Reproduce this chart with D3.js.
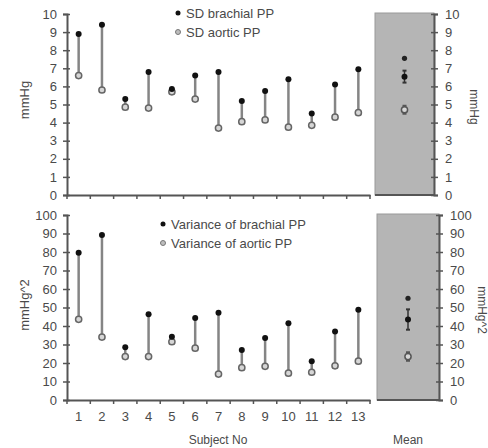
<!DOCTYPE html>
<html>
<head>
<meta charset="utf-8">
<script src="https://cdn.jsdelivr.net/npm/d3@7"></script>
<style>
  html, body { margin: 0; padding: 0; background: #fff; }
  svg { display: block; font-family: "Liberation Sans", Arial, sans-serif; }
</style>
</head>
<body>
<svg id="chart" width="488" height="448"></svg>
<script>
// Subjects on the shared x axis
const subjects = ["1", "2", "3", "4", "5", "6", "7", "8", "9", "10", "11", "12", "13"];

// Standard deviation of pulse pressure (mmHg)
const sdBrachial = [8.9, 9.4, 5.3, 6.8, 5.85, 6.6, 6.8, 5.2, 5.75, 6.4, 4.5, 6.1, 6.95];
const sdAortic   = [6.6, 5.8, 4.85, 4.8, 5.7, 5.3, 3.7, 4.05, 4.15, 3.75, 3.85, 4.3, 4.55];

// Variance of pulse pressure (mmHg^2)
const varBrachial = [79.6, 89.2, 28.5, 46.3, 34.2, 44.3, 47.2, 27, 33.5, 41.5, 21, 37, 48.8];
const varAortic   = [43.6, 34, 23.5, 23.5, 31.5, 28, 14, 17.5, 18.2, 14.5, 15, 18.5, 21];

// Group means with error (index 0 = SD panel, 1 = variance panel)
const meanBrachial = [6.54, 43.5];
const errBrachial  = [0.33, 5.5];
const meanAortic   = [4.71, 23.5];
const errAortic    = [0.22, 2.3];
const sigMarker    = [7.55, 55];

// Axis ticks and labels
const sdTicks  = [0, 1, 2, 3, 4, 5, 6, 7, 8, 9, 10];
const varTicks = [0, 10, 20, 30, 40, 50, 60, 70, 80, 90, 100];
const sdLegend  = ["SD brachial PP", "SD aortic PP"];
const varLegend = ["Variance of brachial PP", "Variance of aortic PP"];
const unitLabels = ["mmHg", "mmHg^2"];

const svg = d3.select("#chart");
const axisColor = "#555";
const textColor = "#4a4a4a";

const x = d3.scaleBand().domain(subjects).range([67, 370]).paddingInner(0).paddingOuter(0);

const panels = [
  { brach: sdBrachial, aort: sdAortic, ticks: sdTicks, max: 10, top: 14, bottom: 195,
    gray: [375, 434], legend: sdLegend, legX: 178, legY: 13, unit: unitLabels[0], idx: 0,
    leftLabelY: 100, rightLabelX: 470, rightLabelY: 107 },
  { brach: varBrachial, aort: varAortic, ticks: varTicks, max: 100, top: 215, bottom: 400,
    gray: [377, 439], legend: varLegend, legX: 163, legY: 224, unit: unitLabels[1], idx: 1,
    leftLabelY: 305, rightLabelX: 478, rightLabelY: 310 }
];

panels.forEach(p => {
  const y = d3.scaleLinear().domain([0, p.max]).range([p.bottom, p.top]);
  const g = svg.append("g");

  // Grey panel holding the group means
  g.append("rect")
    .attr("x", p.gray[0]).attr("y", p.top - 1)
    .attr("width", p.gray[1] - p.gray[0]).attr("height", p.bottom - p.top + 1)
    .attr("fill", "#b5b5b5").attr("stroke", "#9a9a9a").attr("stroke-width", 1);
  g.append("line")
    .attr("x1", p.gray[0]).attr("x2", p.gray[1])
    .attr("y1", p.bottom).attr("y2", p.bottom)
    .attr("stroke", axisColor).attr("stroke-width", 2);

  // Left y axis
  const leftAxis = g.append("g").attr("transform", `translate(${x.range()[0]},0)`)
    .call(d3.axisLeft(y).tickValues(p.ticks).tickSize(4).tickPadding(6));
  // Right y axis on the mean panel
  const rightAxis = g.append("g").attr("transform", `translate(${p.gray[1]},0)`)
    .call(d3.axisRight(y).tickValues(p.ticks).tickSize(4).tickPadding(7));
  [leftAxis, rightAxis].forEach((ax, i) => {
    ax.select(".domain").attr("stroke", axisColor).attr("stroke-width", 2);
    ax.selectAll(".tick line").attr("stroke", axisColor).attr("stroke-width", 1.5)
      .attr("x1", i === 0 ? 3 : -3);
    ax.selectAll(".tick text").attr("fill", textColor).style("font-size", "13px");
  });

  // Bottom x axis with ticks at the category boundaries
  const xAxis = g.append("g").attr("transform", `translate(0,${p.bottom})`)
    .call(d3.axisBottom(x).tickSize(0).tickPadding(12));
  xAxis.select(".domain").attr("stroke", axisColor).attr("stroke-width", 2);
  xAxis.selectAll(".tick text").attr("fill", textColor).style("font-size", "13px")
    .style("display", p.idx === 0 ? "none" : null);
  const bounds = subjects.map(s => x(s)).concat([x.range()[1]]);
  xAxis.selectAll("line.bound").data(bounds).join("line").attr("class", "bound")
    .attr("x1", d => d).attr("x2", d => d).attr("y1", 0).attr("y2", 4)
    .attr("stroke", axisColor).attr("stroke-width", 1.5);

  // Per-subject brachial vs aortic connectors
  const cx = i => x(subjects[i]) + x.bandwidth() / 2;
  g.selectAll("line.link").data(subjects).join("line").attr("class", "link")
    .attr("x1", (d, i) => cx(i)).attr("x2", (d, i) => cx(i))
    .attr("y1", (d, i) => y(p.brach[i])).attr("y2", (d, i) => y(p.aort[i]))
    .attr("stroke", "#858585").attr("stroke-width", 2.5);
  g.selectAll("circle.aort").data(p.aort).join("circle").attr("class", "aort")
    .attr("cx", (d, i) => cx(i)).attr("cy", d => y(d)).attr("r", 3.1)
    .attr("fill", "#d6d6d6").attr("stroke", "#666").attr("stroke-width", 1.5);
  g.selectAll("circle.brach").data(p.brach).join("circle").attr("class", "brach")
    .attr("cx", (d, i) => cx(i)).attr("cy", d => y(d)).attr("r", 3)
    .attr("fill", "#111");

  // Group means with error bars
  const mx = (p.gray[0] + p.gray[1]) / 2;
  const errBar = (m, e, col) => {
    g.append("line").attr("x1", mx).attr("x2", mx).attr("y1", y(m + e)).attr("y2", y(m - e))
      .attr("stroke", col).attr("stroke-width", 1.5);
    [m + e, m - e].forEach(v => g.append("line")
      .attr("x1", mx - 2).attr("x2", mx + 2).attr("y1", y(v)).attr("y2", y(v))
      .attr("stroke", col).attr("stroke-width", 2));
  };
  errBar(meanBrachial[p.idx], errBrachial[p.idx], "#333");
  errBar(meanAortic[p.idx], errAortic[p.idx], "#555");
  g.append("circle").attr("cx", mx).attr("cy", y(meanAortic[p.idx])).attr("r", 3.1)
    .attr("fill", "#d6d6d6").attr("stroke", "#555").attr("stroke-width", 1.5);
  g.append("circle").attr("cx", mx).attr("cy", y(meanBrachial[p.idx])).attr("r", 3)
    .attr("fill", "#111");
  g.append("circle").attr("cx", mx).attr("cy", y(sigMarker[p.idx])).attr("r", 2.6)
    .attr("fill", "#222");

  // Legend
  const leg = g.append("g").attr("transform", `translate(${p.legX},${p.legY})`);
  leg.append("circle").attr("cx", 0).attr("cy", 0).attr("r", 2.5).attr("fill", "#111");
  leg.append("circle").attr("cx", 0).attr("cy", 19).attr("r", 2.5)
    .attr("fill", "#bdbdbd").attr("stroke", "#777").attr("stroke-width", 1);
  leg.selectAll("text").data(p.legend).join("text")
    .attr("x", 8).attr("y", (d, i) => i * 19 + 5)
    .attr("fill", textColor).style("font-size", "13px").text(d => d);

  // Unit titles on both sides
  g.append("text").attr("transform", `translate(29,${p.leftLabelY}) rotate(-90)`)
    .attr("text-anchor", "middle").attr("fill", textColor).style("font-size", "13px").text(p.unit);
  g.append("text").attr("transform", `translate(${p.rightLabelX},${p.rightLabelY}) rotate(90)`)
    .attr("text-anchor", "middle").attr("fill", textColor).style("font-size", "12px").text(p.unit);
});

// Category titles
svg.append("text").attr("x", 218).attr("y", 444).attr("text-anchor", "middle")
  .attr("fill", textColor).style("font-size", "12px").text("Subject No");
svg.append("text").attr("x", 408).attr("y", 444).attr("text-anchor", "middle")
  .attr("fill", textColor).style("font-size", "12px").text("Mean");
</script>
</body>
</html>
